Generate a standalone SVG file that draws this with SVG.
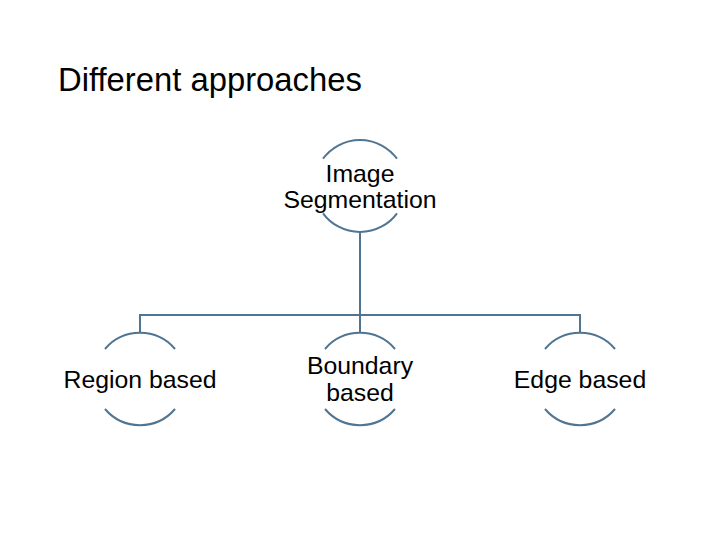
<svg xmlns="http://www.w3.org/2000/svg" width="720" height="540" viewBox="0 0 720 540">
<style>
.arc{fill:none;stroke:#4f7592;stroke-width:2}
.ln{fill:none;stroke:#4f7592;stroke-width:2}
.t{font-family:"Liberation Sans",Arial,sans-serif;font-size:24.8px;fill:#000;text-anchor:middle}
.title{font-family:"Liberation Sans",Arial,sans-serif;font-size:32.8px;fill:#000}
</style>
<rect width="720" height="540" fill="#fff"/>
<text class="title" x="58" y="91">Different approaches</text>
<g id="connectors">
<path class="ln" d="M360 232 V315 M140 333 V315 H580 V333 M360 315 V333"/>
</g>
<g id="image-segmentation">
<path class="arc" d="M323 158.7 A46 46 0 0 1 397 158.7"/>
<path class="arc" d="M323 213.3 A46 46 0 0 0 397 213.3"/>
<text class="t" x="360" y="182">Image</text>
<text class="t" x="360" y="208">Segmentation</text>
</g>
<g id="region-based">
<path class="arc" d="M105 349 A46 46 0 0 1 175 349"/>
<path class="arc" d="M105 409 A46 46 0 0 0 175 409"/>
<text class="t" x="140" y="388">Region based</text>
</g>
<g id="boundary-based">
<path class="arc" d="M325 349 A46 46 0 0 1 395 349"/>
<path class="arc" d="M325 409 A46 46 0 0 0 395 409"/>
<text class="t" x="360" y="374">Boundary</text>
<text class="t" x="360" y="401">based</text>
</g>
<g id="edge-based">
<path class="arc" d="M545 349 A46 46 0 0 1 615 349"/>
<path class="arc" d="M545 409 A46 46 0 0 0 615 409"/>
<text class="t" x="580" y="388">Edge based</text>
</g>
</svg>
